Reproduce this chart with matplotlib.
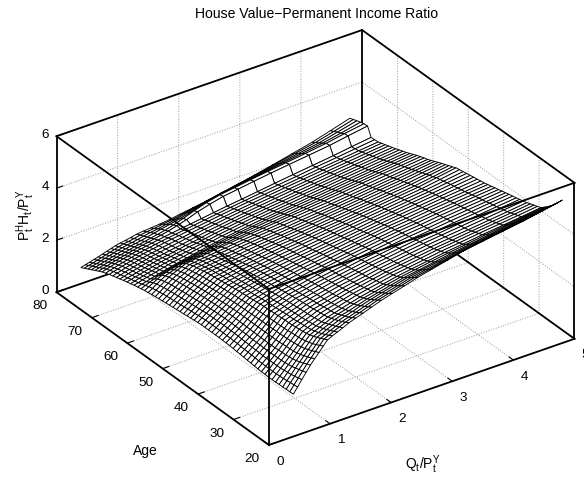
import matplotlib
matplotlib.use("Agg")
import matplotlib.pyplot as plt
import numpy as np

plt.rcParams["font.family"] = ["Liberation Sans", "DejaVu Sans"]
plt.rcParams["mathtext.default"] = "regular"

q_values = [0.40, 0.47, 0.54, 0.61, 0.68, 0.75, 0.82, 0.89, 0.96, 1.04, 1.12, 1.21, 1.31, 1.42,
            1.54, 1.68, 1.84, 2.02, 2.22, 2.44, 2.68, 2.94, 3.22, 3.52, 3.84, 4.18, 4.48, 4.80]
age_values = list(range(20, 81))

# one row per age, one column per q value
ratio = [
    [1.63,1.85,2.08,2.30,2.52,2.71,2.89,3.08,3.26,3.35,3.43,3.52,3.63,3.72,3.81,3.93,4.06,4.18,4.31,4.46,4.59,4.73,4.88,4.99,5.10,5.22,5.35,5.50],
    [1.62,1.83,2.04,2.25,2.46,2.64,2.83,3.01,3.19,3.27,3.36,3.45,3.55,3.64,3.73,3.84,3.97,4.08,4.21,4.35,4.46,4.59,4.72,4.83,4.95,5.07,5.19,5.32],
    [1.62,1.82,2.01,2.21,2.40,2.58,2.76,2.94,3.12,3.20,3.29,3.38,3.48,3.56,3.65,3.76,3.88,3.99,4.11,4.25,4.35,4.46,4.58,4.69,4.81,4.93,5.04,5.15],
    [1.61,1.80,1.98,2.17,2.35,2.53,2.71,2.88,3.06,3.14,3.23,3.32,3.42,3.50,3.58,3.69,3.80,3.91,4.02,4.15,4.25,4.35,4.46,4.57,4.68,4.80,4.90,5.00],
    [1.61,1.78,1.96,2.13,2.30,2.48,2.65,2.83,3.00,3.08,3.17,3.26,3.36,3.44,3.51,3.61,3.72,3.82,3.93,4.05,4.14,4.24,4.35,4.45,4.56,4.68,4.77,4.86],
    [1.60,1.77,1.94,2.10,2.27,2.44,2.62,2.79,2.96,3.04,3.12,3.21,3.31,3.38,3.46,3.56,3.66,3.75,3.86,3.97,4.06,4.16,4.26,4.35,4.46,4.56,4.65,4.74],
    [1.60,1.76,1.92,2.08,2.24,2.41,2.58,2.75,2.92,3.00,3.08,3.16,3.26,3.33,3.41,3.50,3.60,3.69,3.79,3.90,3.99,4.08,4.18,4.26,4.36,4.45,4.53,4.62],
    [1.60,1.76,1.92,2.07,2.23,2.40,2.57,2.73,2.90,2.98,3.06,3.14,3.24,3.31,3.38,3.47,3.57,3.66,3.75,3.86,3.94,4.03,4.13,4.21,4.31,4.40,4.48,4.57],
    [1.61,1.76,1.92,2.07,2.22,2.39,2.55,2.72,2.88,2.96,3.04,3.12,3.22,3.29,3.36,3.44,3.54,3.62,3.72,3.82,3.90,3.99,4.09,4.17,4.26,4.35,4.43,4.52],
    [1.61,1.76,1.91,2.06,2.21,2.38,2.54,2.71,2.87,2.95,3.02,3.10,3.20,3.27,3.33,3.42,3.51,3.59,3.68,3.78,3.86,3.95,4.04,4.12,4.21,4.30,4.38,4.47],
    [1.62,1.77,1.91,2.06,2.20,2.36,2.53,2.69,2.85,2.93,3.00,3.08,3.18,3.24,3.31,3.39,3.48,3.56,3.64,3.74,3.82,3.91,4.00,4.08,4.16,4.25,4.33,4.42],
    [1.63,1.77,1.91,2.06,2.20,2.36,2.52,2.68,2.84,2.91,2.99,3.07,3.16,3.22,3.28,3.36,3.45,3.53,3.61,3.71,3.79,3.88,3.97,4.05,4.13,4.22,4.30,4.38],
    [1.65,1.79,1.93,2.06,2.20,2.36,2.52,2.68,2.84,2.91,2.98,3.06,3.15,3.21,3.27,3.35,3.43,3.50,3.59,3.68,3.76,3.85,3.94,4.02,4.10,4.19,4.27,4.35],
    [1.66,1.80,1.93,2.07,2.20,2.36,2.52,2.67,2.83,2.90,2.97,3.04,3.13,3.19,3.25,3.32,3.40,3.48,3.56,3.65,3.73,3.82,3.91,3.98,4.07,4.15,4.23,4.31],
    [1.68,1.81,1.94,2.07,2.20,2.36,2.51,2.67,2.82,2.89,2.96,3.03,3.12,3.17,3.23,3.30,3.38,3.45,3.53,3.62,3.70,3.79,3.88,3.95,4.04,4.12,4.20,4.28],
    [1.69,1.82,1.95,2.08,2.21,2.36,2.51,2.66,2.81,2.88,2.94,3.02,3.10,3.15,3.21,3.28,3.35,3.42,3.50,3.59,3.67,3.76,3.85,3.92,4.01,4.09,4.17,4.25],
    [1.70,1.83,1.96,2.08,2.21,2.36,2.51,2.65,2.80,2.86,2.93,3.00,3.08,3.13,3.19,3.26,3.33,3.40,3.47,3.56,3.64,3.73,3.82,3.89,3.98,4.06,4.13,4.21],
    [1.72,1.85,1.97,2.10,2.22,2.36,2.51,2.65,2.79,2.85,2.91,2.98,3.06,3.11,3.16,3.23,3.30,3.37,3.44,3.53,3.61,3.70,3.79,3.86,3.95,4.03,4.10,4.18],
    [1.73,1.85,1.98,2.10,2.22,2.36,2.50,2.64,2.78,2.84,2.90,2.96,3.04,3.09,3.14,3.21,3.28,3.35,3.42,3.50,3.58,3.67,3.76,3.83,3.92,4.00,4.07,4.14],
    [1.74,1.86,1.99,2.11,2.23,2.37,2.50,2.64,2.77,2.83,2.89,2.95,3.02,3.07,3.12,3.18,3.25,3.32,3.39,3.47,3.55,3.64,3.73,3.80,3.89,3.97,4.04,4.11],
    [1.74,1.86,1.99,2.11,2.23,2.36,2.49,2.62,2.75,2.81,2.87,2.93,3.00,3.05,3.09,3.15,3.22,3.28,3.35,3.43,3.51,3.60,3.69,3.76,3.85,3.93,4.00,4.07],
    [1.75,1.87,2.00,2.12,2.24,2.37,2.49,2.62,2.74,2.79,2.85,2.90,2.97,3.02,3.06,3.12,3.19,3.25,3.32,3.40,3.48,3.57,3.66,3.73,3.82,3.90,3.97,4.04],
    [1.75,1.87,2.00,2.12,2.24,2.36,2.48,2.60,2.72,2.77,2.83,2.88,2.95,2.99,3.04,3.10,3.16,3.22,3.29,3.36,3.44,3.53,3.62,3.69,3.78,3.86,3.93,4.00],
    [1.75,1.87,2.00,2.12,2.24,2.36,2.48,2.59,2.71,2.76,2.81,2.87,2.93,2.97,3.02,3.07,3.13,3.19,3.26,3.33,3.41,3.49,3.58,3.66,3.74,3.83,3.90,3.98],
    [1.75,1.87,1.99,2.11,2.23,2.35,2.46,2.58,2.69,2.74,2.79,2.85,2.91,2.95,2.99,3.04,3.10,3.16,3.22,3.29,3.37,3.45,3.54,3.62,3.70,3.79,3.87,3.95],
    [1.75,1.87,1.99,2.11,2.23,2.34,2.46,2.57,2.68,2.73,2.77,2.82,2.88,2.92,2.96,3.01,3.07,3.13,3.19,3.26,3.33,3.41,3.50,3.58,3.67,3.76,3.84,3.93],
    [1.75,1.87,1.99,2.10,2.22,2.33,2.44,2.55,2.66,2.71,2.75,2.80,2.86,2.90,2.94,2.99,3.04,3.09,3.15,3.22,3.29,3.37,3.46,3.54,3.63,3.72,3.81,3.90],
    [1.74,1.86,1.98,2.09,2.21,2.32,2.43,2.53,2.64,2.68,2.73,2.77,2.83,2.87,2.91,2.96,3.01,3.06,3.12,3.19,3.26,3.34,3.42,3.50,3.59,3.68,3.78,3.88],
    [1.73,1.85,1.97,2.08,2.20,2.31,2.41,2.52,2.62,2.66,2.71,2.75,2.81,2.85,2.88,2.93,2.98,3.03,3.09,3.15,3.22,3.30,3.38,3.46,3.55,3.64,3.74,3.85],
    [1.71,1.83,1.95,2.07,2.19,2.29,2.40,2.50,2.60,2.64,2.68,2.73,2.78,2.82,2.85,2.90,2.95,3.00,3.06,3.12,3.19,3.26,3.34,3.42,3.51,3.60,3.71,3.83],
    [1.70,1.82,1.94,2.06,2.18,2.28,2.38,2.48,2.58,2.62,2.66,2.70,2.75,2.79,2.82,2.87,2.92,2.97,3.02,3.08,3.15,3.22,3.30,3.38,3.47,3.56,3.68,3.80],
    [1.68,1.80,1.92,2.04,2.16,2.26,2.36,2.46,2.56,2.60,2.63,2.67,2.72,2.75,2.79,2.83,2.88,2.93,2.98,3.04,3.11,3.17,3.25,3.33,3.42,3.51,3.62,3.74],
    [1.67,1.79,1.91,2.03,2.15,2.25,2.35,2.44,2.54,2.57,2.61,2.65,2.69,2.72,2.76,2.80,2.85,2.90,2.94,3.00,3.07,3.13,3.21,3.29,3.38,3.47,3.58,3.69],
    [1.65,1.77,1.89,2.01,2.13,2.23,2.33,2.42,2.52,2.55,2.58,2.61,2.65,2.68,2.72,2.76,2.81,2.86,2.90,2.96,3.02,3.09,3.16,3.24,3.33,3.42,3.52,3.63],
    [1.64,1.76,1.88,2.00,2.12,2.22,2.31,2.41,2.50,2.53,2.56,2.59,2.62,2.65,2.69,2.73,2.78,2.82,2.87,2.92,2.98,3.05,3.12,3.20,3.29,3.38,3.48,3.58],
    [1.62,1.74,1.86,1.98,2.10,2.19,2.29,2.38,2.47,2.50,2.52,2.55,2.58,2.61,2.65,2.69,2.74,2.78,2.82,2.87,2.93,3.00,3.07,3.15,3.24,3.33,3.42,3.52],
    [1.61,1.73,1.85,1.96,2.08,2.17,2.26,2.35,2.44,2.47,2.49,2.52,2.55,2.58,2.61,2.66,2.70,2.74,2.78,2.83,2.89,2.95,3.02,3.10,3.19,3.28,3.37,3.46],
    [1.59,1.71,1.83,1.94,2.06,2.15,2.24,2.32,2.41,2.43,2.46,2.48,2.51,2.54,2.57,2.62,2.66,2.70,2.74,2.78,2.84,2.90,2.97,3.05,3.14,3.23,3.31,3.40],
    [1.58,1.70,1.81,1.93,2.04,2.13,2.21,2.30,2.38,2.40,2.43,2.45,2.48,2.51,2.54,2.58,2.62,2.66,2.70,2.74,2.80,2.86,2.92,3.00,3.09,3.18,3.26,3.34],
    [1.56,1.67,1.79,1.90,2.01,2.09,2.17,2.25,2.33,2.35,2.38,2.40,2.43,2.46,2.49,2.53,2.57,2.61,2.65,2.70,2.76,2.82,2.88,2.96,3.05,3.14,3.22,3.30],
    [1.54,1.65,1.76,1.87,1.98,2.06,2.13,2.21,2.28,2.30,2.33,2.35,2.38,2.41,2.44,2.48,2.52,2.56,2.60,2.65,2.71,2.77,2.84,2.92,3.01,3.10,3.17,3.25],
    [1.52,1.62,1.73,1.83,1.93,1.99,2.05,2.11,2.17,2.20,2.22,2.25,2.28,2.31,2.35,2.39,2.44,2.48,2.53,2.58,2.64,2.71,2.78,2.86,2.95,3.04,3.12,3.20],
    [1.50,1.59,1.68,1.77,1.86,1.91,1.96,2.00,2.05,2.08,2.11,2.14,2.18,2.22,2.26,2.31,2.36,2.41,2.46,2.52,2.58,2.65,2.72,2.80,2.89,2.98,3.06,3.14],
    [1.47,1.54,1.61,1.67,1.74,1.78,1.83,1.87,1.91,1.94,1.98,2.02,2.06,2.10,2.15,2.21,2.27,2.32,2.38,2.45,2.52,2.59,2.66,2.74,2.83,2.92,3.00,3.08],
    [1.44,1.49,1.53,1.58,1.62,1.66,1.70,1.74,1.78,1.82,1.86,1.90,1.95,2.00,2.05,2.11,2.18,2.24,2.31,2.38,2.45,2.52,2.60,2.68,2.77,2.86,2.94,3.02],
    [1.41,1.45,1.50,1.54,1.58,1.62,1.66,1.70,1.74,1.78,1.81,1.85,1.90,1.95,2.00,2.06,2.13,2.19,2.26,2.33,2.40,2.47,2.55,2.63,2.72,2.81,2.89,2.97],
    [1.37,1.41,1.46,1.50,1.54,1.58,1.62,1.66,1.70,1.73,1.77,1.81,1.85,1.90,1.95,2.01,2.08,2.14,2.21,2.28,2.35,2.42,2.50,2.58,2.67,2.76,2.84,2.92],
    [1.34,1.38,1.42,1.46,1.50,1.54,1.58,1.62,1.66,1.69,1.73,1.77,1.81,1.86,1.90,1.96,2.03,2.09,2.16,2.23,2.30,2.37,2.45,2.53,2.62,2.71,2.79,2.87],
    [1.30,1.34,1.38,1.42,1.46,1.50,1.54,1.58,1.62,1.65,1.68,1.72,1.76,1.81,1.85,1.91,1.98,2.04,2.11,2.18,2.25,2.32,2.40,2.48,2.57,2.66,2.74,2.82],
    [1.26,1.30,1.35,1.39,1.43,1.47,1.51,1.54,1.58,1.61,1.64,1.68,1.72,1.76,1.81,1.87,1.93,1.99,2.06,2.13,2.20,2.28,2.36,2.44,2.53,2.62,2.70,2.78],
    [1.22,1.26,1.31,1.35,1.39,1.43,1.47,1.51,1.55,1.58,1.61,1.65,1.69,1.73,1.78,1.83,1.89,1.95,2.02,2.09,2.16,2.23,2.31,2.39,2.48,2.57,2.65,2.73],
    [1.18,1.23,1.27,1.32,1.36,1.40,1.44,1.47,1.51,1.54,1.57,1.61,1.65,1.69,1.73,1.78,1.84,1.90,1.97,2.04,2.11,2.19,2.27,2.35,2.44,2.53,2.61,2.69],
    [1.14,1.19,1.23,1.28,1.32,1.36,1.40,1.44,1.48,1.51,1.54,1.58,1.62,1.66,1.70,1.75,1.80,1.86,1.93,2.00,2.07,2.14,2.22,2.30,2.39,2.48,2.56,2.64],
    [1.09,1.14,1.18,1.23,1.27,1.31,1.35,1.39,1.43,1.46,1.49,1.53,1.57,1.61,1.65,1.70,1.75,1.81,1.88,1.95,2.02,2.10,2.18,2.26,2.36,2.45,2.54,2.63],
    [1.04,1.09,1.13,1.18,1.22,1.26,1.30,1.34,1.38,1.41,1.44,1.48,1.52,1.56,1.60,1.65,1.70,1.76,1.83,1.90,1.97,2.05,2.14,2.23,2.32,2.42,2.52,2.62],
    [0.97,1.02,1.06,1.11,1.15,1.19,1.23,1.27,1.31,1.35,1.38,1.42,1.47,1.52,1.58,1.67,1.78,1.93,2.06,2.18,2.26,2.35,2.44,2.53,2.62,2.72,2.84,2.96],
    [0.90,0.95,0.99,1.04,1.08,1.12,1.16,1.20,1.24,1.28,1.31,1.35,1.40,1.45,1.51,1.60,1.72,1.87,2.02,2.14,2.22,2.31,2.40,2.49,2.59,2.70,2.83,2.95],
    [0.83,0.88,0.92,0.97,1.01,1.05,1.10,1.14,1.18,1.22,1.25,1.29,1.34,1.40,1.46,1.53,1.61,1.72,1.85,1.98,2.07,2.17,2.27,2.38,2.49,2.61,2.75,2.91],
    [0.76,0.81,0.85,0.90,0.94,0.99,1.03,1.08,1.12,1.16,1.19,1.23,1.28,1.33,1.37,1.43,1.50,1.60,1.70,1.82,1.92,2.02,2.14,2.26,2.39,2.52,2.69,2.87],
    [0.69,0.74,0.78,0.83,0.87,0.92,0.96,1.01,1.06,1.10,1.13,1.17,1.22,1.26,1.29,1.34,1.39,1.47,1.56,1.66,1.77,1.88,2.00,2.14,2.29,2.44,2.62,2.82],
    [0.62,0.67,0.71,0.76,0.80,0.85,0.90,0.95,1.00,1.04,1.07,1.11,1.16,1.19,1.21,1.24,1.28,1.35,1.42,1.50,1.61,1.72,1.85,2.00,2.17,2.35,2.55,2.77],
]

q_ticks = [0, 1, 2, 3, 4, 5]
age_ticks = [20, 30, 40, 50, 60, 70, 80]
ratio_ticks = [0, 2, 4, 6]

fig = plt.figure(figsize=(5.84, 4.79), dpi=100)
ax = fig.add_axes([38.2 / 584, -35.8 / 479, 540 / 584, 540 / 479], projection="3d")
ax.set_proj_type("ortho")
ax.view_init(elev=30, azim=-124.8)
ax.set_box_aspect((1, 1, 0.484))
ax.computed_zorder = False

Q, A = np.meshgrid(q_values, age_values)
ax.plot_surface(Q, A, np.array(ratio), rstride=1, cstride=1, color="white", shade=False,
                edgecolor="black", linewidth=0.65, zorder=3)

q_lim = (q_ticks[0], q_ticks[-1])
age_lim = (age_ticks[0], age_ticks[-1])
ratio_lim = (ratio_ticks[0], ratio_ticks[-1])

# box edges in front of the surface
front = [
    ([q_lim[0], q_lim[0]], [age_lim[1], age_lim[0]], [ratio_lim[1], ratio_lim[1]]),
    ([q_lim[0], q_lim[1]], [age_lim[0], age_lim[0]], [ratio_lim[1], ratio_lim[1]]),
    ([q_lim[0], q_lim[1]], [age_lim[1], age_lim[1]], [ratio_lim[1], ratio_lim[1]]),
    ([q_lim[1], q_lim[1]], [age_lim[1], age_lim[0]], [ratio_lim[1], ratio_lim[1]]),
    ([q_lim[0], q_lim[0]], [age_lim[0], age_lim[0]], list(ratio_lim)),
    ([q_lim[0], q_lim[0]], [age_lim[1], age_lim[1]], list(ratio_lim)),
    ([q_lim[1], q_lim[1]], [age_lim[0], age_lim[0]], list(ratio_lim)),
    ([q_lim[0], q_lim[0]], list(age_lim), [ratio_lim[0], ratio_lim[0]]),
    (list(q_lim), [age_lim[0], age_lim[0]], [ratio_lim[0], ratio_lim[0]]),
]
for xs, ys, zs in front:
    ax.plot(xs, ys, zs, color="black", lw=1.3, zorder=5)

# box edges behind the surface
back = [
    ([q_lim[1], q_lim[1]], [age_lim[1], age_lim[1]], list(ratio_lim)),
    ([q_lim[0], q_lim[1]], [age_lim[1], age_lim[1]], [ratio_lim[0], ratio_lim[0]]),
    ([q_lim[1], q_lim[1]], list(age_lim), [ratio_lim[0], ratio_lim[0]]),
]
for xs, ys, zs in back:
    ax.plot(xs, ys, zs, color="black", lw=1.3, zorder=2)

ax.set_xlim(*q_lim, view_margin=0)
ax.set_ylim(*age_lim, view_margin=0)
ax.set_zlim(*ratio_lim, view_margin=0)
ax.set_xticks(q_ticks)
ax.set_yticks(age_ticks)
ax.set_zticks(ratio_ticks)
ax.tick_params(labelsize=9.7, colors="black")
ax.tick_params(axis="x", pad=-1)
ax.tick_params(axis="y", pad=3)
ax.tick_params(axis="z", pad=-3.5)
for label in ax.get_xticklabels():
    label.set_ha("left")
for label in ax.get_yticklabels():
    label.set_va("center")
for label in ax.get_zticklabels():
    label.set_va("center")

for axis in (ax.xaxis, ax.yaxis, ax.zaxis):
    axis.set_pane_color((1, 1, 1, 0))
    axis.pane.set_edgecolor((1, 1, 1, 0))
    axis.line.set_color((1, 1, 1, 0))
    axis._axinfo["grid"].update(color="#999999", linewidth=0.7, linestyle=":")
    axis._axinfo["tick"].update(inward_factor=0, outward_factor=0.25, linewidth={True: 0.8, False: 0.5})

fig.text(317 / 584, 1 - 14 / 479, "House Value\u2212Permanent Income Ratio", fontsize=10.1,
         ha="center", va="center")
fig.text(145 / 584, 1 - 451 / 479, "Age", fontsize=10, ha="center", va="center")
fig.text(423 / 584, 1 - 465 / 479, "$Q_t/P_t^Y$", fontsize=10, ha="center", va="center")
fig.text(26 / 584, 1 - 215 / 479, "$P_t^H H_t/P_t^Y$", fontsize=10, rotation=90,
         ha="center", va="center")

fig.savefig("out.png", dpi=100)
